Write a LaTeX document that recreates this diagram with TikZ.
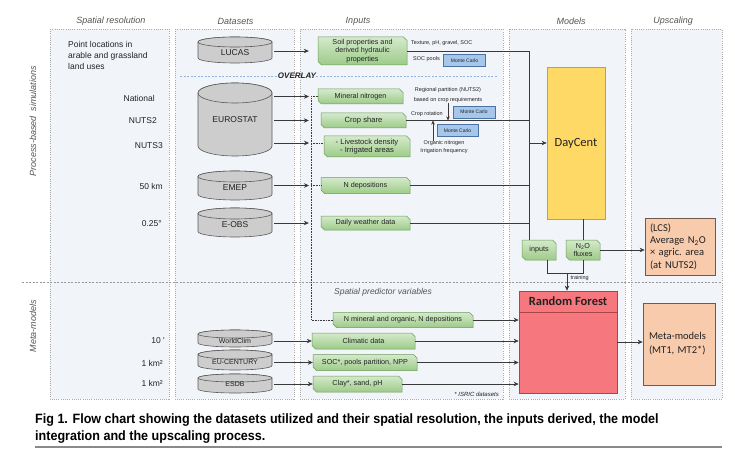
\documentclass[tikz,border=0pt]{standalone}
\usepackage{fontspec}
\setmainfont{Liberation Sans}
\newfontfamily\calfont{Carlito}
\newfontfamily\capfont[FakeStretch=0.93]{Liberation Sans}
\usetikzlibrary{arrows.meta,calc}

\definecolor{panelfill}{HTML}{F1F5FA}
\definecolor{panelline}{HTML}{ABABAB}
\definecolor{sepcol}{HTML}{999999}
\definecolor{greentop}{HTML}{D4EACB}
\definecolor{greenbot}{HTML}{9DCB88}
\definecolor{greenline}{HTML}{6B9B58}
\definecolor{cylfill}{HTML}{CDCDCD}
\definecolor{cylline}{HTML}{5A5A5A}
\definecolor{mcfill}{HTML}{A7C7EA}
\definecolor{mcline}{HTML}{4B72A3}
\definecolor{dayfill}{HTML}{FFD966}
\definecolor{dayline}{HTML}{C7A233}
\definecolor{rffill}{HTML}{F6777D}
\definecolor{rfline}{HTML}{A94545}
\definecolor{upfill}{HTML}{F8CBAD}
\definecolor{upline}{HTML}{6E5B4F}
\definecolor{headgray}{HTML}{555555}
\definecolor{overlayblue}{HTML}{8FB5E0}
\definecolor{conncol}{HTML}{3A3A3A}
\definecolor{txt}{HTML}{222222}
\definecolor{rulecol}{HTML}{8A8A8A}

\newcommand\fs[2]{\fontsize{#1}{#2}\selectfont}

\tikzset{
  panel/.style={draw=panelline, fill=panelfill, dash pattern=on 1pt off 1.2pt, line width=0.5pt},
  header/.style={font=\fs{9}{11}\itshape, text=headgray, inner sep=0pt},
  restext/.style={font=\fs{8.5}{11}, text=txt, inner sep=0pt},
  gshape/.style={draw=greenline, top color=greentop, bottom color=greenbot, line width=0.5pt},
  gtext/.style={inner sep=0pt, align=center, text=txt},
  cylshape/.style={draw=cylline, fill=cylfill, line width=0.6pt},
  cyltext/.style={inner sep=0pt, text=txt},
  mcbox/.style={draw=mcline, fill=mcfill, line width=0.5pt, font=\fs{5}{6}, inner sep=0pt, text=txt},
  note/.style={font=\fs{5.5}{8}, inner sep=0pt, text=txt},
  conn/.style={draw=conncol, line width=0.6pt},
  arr/.style={conn, -{Stealth[length=5pt,width=4.5pt]}},
  sarr/.style={conn, -{Stealth[length=4pt,width=3.5pt]}},
  dotc/.style={draw=conncol, line width=0.6pt, dash pattern=on 0.8pt off 0.8pt},
  overlayline/.style={draw=overlayblue, line width=0.6pt, dash pattern=on 2pt off 1.5pt},
  capt/.style={font=\capfont\bfseries\fs{13.5}{16}, text=black, inner sep=0pt, anchor=west},
}

\newcommand\gbox[7][7.2]{%
  \pgfmathsetmacro\gL{#3-#5/2}\pgfmathsetmacro\gR{#3+#5/2}%
  \pgfmathsetmacro\gT{#4-#6/2}\pgfmathsetmacro\gB{#4+#6/2}%
  \path[gshape] (\gL,\gT) -- ({\gR-3.5},\gT) -- (\gR,{\gT+3.5}) -- (\gR,\gB) -- ({\gL+3.5},\gB) -- (\gL,{\gB-3.5}) -- cycle;
  \node[gtext, font=\fontsize{#1}{8.7}\selectfont, minimum width=#5pt, minimum height=#6pt] (#2) at (#3,#4) {#7};
}

\newcommand\cyl[7]{%
  \pgfmathsetmacro\cL{#2-37}\pgfmathsetmacro\cR{#2+37}%
  \pgfmathsetmacro\cT{#3+#5}\pgfmathsetmacro\cB{#4-#5}%
  \path[cylshape] (\cL,\cT) -- (\cL,\cB) arc[start angle=180,end angle=0,x radius=37,y radius=#5] -- (\cR,\cT) arc[start angle=0,end angle=-180,x radius=37,y radius=#5] -- cycle;
  \path[cylshape] (#2,\cT) ellipse[x radius=37,y radius=#5];
  \node[cyltext, minimum width=74pt] (#1) at (#2,#6) {#7};
}

\begin{document}
\begin{tikzpicture}[x=1pt,y=-1pt]
\useasboundingbox (0,0) rectangle (735,449);
\fill[white] (0,0) rectangle (735,449);

% panels
\path[panel] (50,29) rectangle (169,399);
\path[panel] (175,29) rectangle (294,399);
\path[panel] (300,29) rectangle (503,399);
\path[panel] (509,29) rectangle (625,399);
\path[panel] (631,29) rectangle (722,399);
\draw[draw=sepcol, line width=0.5pt, dash pattern=on 2pt off 1.5pt] (22,282.5) -- (722,282.5);

% headers
\node[header] (hres) at (111,21) {Spatial resolution};
\node[header] (hdat) at (235.5,21) {Datasets};
\node[header] (hinp) at (358,21) {Inputs};
\node[header] (hmod) at (571,21) {Models};
\node[header] (hups) at (673,21) {Upscaling};
\node[header, rotate=90] (lproc) at (33,121) {Process-based\ \ simulations};
\node[header, rotate=90] (lmeta) at (33,326) {Meta-models};

% spatial resolution texts
\node[restext, anchor=west, align=left] (pt) at (68,55.5) {Point locations in\\arable and grassland\\land uses};
\node[restext, anchor=east] (rnat) at (155,98) {National};
\node[restext, anchor=east] (rn2) at (157,121) {NUTS2};
\node[restext, anchor=east] (rn3) at (163,146) {NUTS3};
\node[restext, anchor=east] (r50) at (163,186) {50 km};
\node[restext, anchor=east] (r025) at (162,224) {0.25°};
\node[restext, anchor=east] (r10) at (165,341) {10 \textquotesingle};
\node[restext, anchor=east] (r1a) at (163,363) {1 km²};
\node[restext, anchor=east] (r1b) at (163,383) {1 km²};

% overlay
\node[font=\fs{8}{9}\bfseries\itshape, text=txt, inner sep=0pt] (overlay) at (297,76) {OVERLAY};
\coordinate (ovl) at (180,76);
\coordinate (ovr) at (497,76);
\draw[overlayline] (ovl) -- (overlay.west);
\draw[overlayline] (overlay.east) -- (ovr);

% datasets
\cyl{lucas}{235}{37}{63}{5}{52.5}{\fs{8.5}{10}LUCAS}
\cyl{eurostat}{235}{83}{156}{10}{120}{\fs{8.5}{10}EUROSTAT}
\cyl{emep}{235}{171}{200}{5.5}{188}{\fs{8.5}{10}EMEP}
\cyl{eobs}{235}{208}{237}{5.5}{225}{\fs{8.5}{10}E-OBS}
\cyl{worldclim}{235}{330}{347}{4}{340.5}{\fs{7}{8}WorldClim}
\cyl{eucentury}{235}{350}{370}{4.5}{362}{\fs{7}{8}EU-CENTURY}
\cyl{esdb}{235}{374}{393}{4}{384}{\fs{7}{8}ESDB}

% inputs
\gbox{soil}{362.5}{51}{89}{28}{Soil properties and\\derived hydraulic\\properties}
\gbox{minN}{360.5}{96.5}{85}{15}{Mineral nitrogen}
\gbox[7.6]{crop}{363.5}{120.5}{85}{15}{Crop share}
\gbox[7.6]{live}{367}{146.5}{86}{21}{- Livestock density\\- Irrigated areas}
\gbox{ndep}{365.5}{185.5}{89}{16}{N depositions}
\gbox{dwd}{365.5}{223}{89}{14}{Daily weather data}
\gbox{nmo}{403}{320}{140}{15}{N mineral and organic, N depositions}
\gbox{clim}{363.5}{341}{103}{16}{Climatic data}
\gbox{soc}{365}{362.5}{104}{16}{SOC*, pools partition, NPP}
\gbox{clay}{357.5}{384}{89}{16}{Clay*, sand, pH}

\node[font=\fs{8.5}{10}\itshape, text=headgray, inner sep=0pt] (spv) at (383,292) {Spatial predictor variables};
\node[note, font=\fs{6}{7}\itshape, anchor=east] (isric) at (499,394) {* ISRIC datasets};

% annotations
\node[note, anchor=west] (tex) at (411,43.5) {Texture, pH, gravel, SOC};
\node[note, anchor=west] (socp) at (413,59) {SOC pools};
\node[mcbox, minimum width=42pt, minimum height=12pt] (mc1) at (464.5,60.5) {Monte Carlo};
\node[note, align=center, font=\fs{5.5}{9.5}] (reg) at (448,95.3) {Regional partition (NUTS2)\\based on crop requirements};
\node[note, anchor=east] (crot) at (443,114) {Crop rotation};
\node[mcbox, minimum width=42pt, minimum height=12pt] (mc2) at (474,112) {Monte Carlo};
\node[mcbox, minimum width=41pt, minimum height=12pt] (mc3) at (457.5,130.5) {Monte Carlo};
\node[note, align=center] (org) at (444,147) {Organic nitrogen\\Irrigation frequency};

% models
\node[draw=dayline, fill=dayfill, line width=0.7pt, minimum width=58pt, minimum height=152pt, inner sep=0pt, font=\calfont\fs{12.5}{14}, text=txt] (dc) at (576,143) {DayCent};
\gbox{inbox}{539}{250}{34}{20}{inputs}
\gbox{n2o}{583}{250}{34}{20}{N\textsubscript{2}O\\fluxes}
\node[draw=rfline, fill=rffill, line width=0.7pt, minimum width=98pt, minimum height=102pt, inner sep=0pt] (rf) at (568,342) {};
\coordinate (rfh) at (568,312);
\draw[draw=rfline, line width=0.5pt] (rf.west |- rfh) -- (rf.east |- rfh);
\node[font=\calfont\bfseries\fs{12.5}{14}, text=txt, inner sep=0pt] (rft) at (568,301.5) {Random Forest};

% upscaling
\node[draw=upline, fill=upfill, line width=0.7pt, minimum width=70pt, minimum height=57pt, inner xsep=5pt, inner ysep=0pt, text width=60pt, align=left, font=\calfont\fs{10.5}{12.3}, text=txt] (lcs) at (680,246.5) {(LCS)\\Average N\textsubscript{2}O\\× agric.\ area\\(at NUTS2)};
\node[draw=upline, fill=upfill, line width=0.7pt, minimum width=72pt, minimum height=82pt, inner xsep=6pt, inner ysep=0pt, text width=60pt, align=left, font=\calfont\fs{10.5}{14}, text=txt] (meta) at (679,344) {Meta-models\\(MT1, MT2*)};

% dataset -> inputs arrows
\coordinate (dv1) at (311,96.5);
\coordinate (dv3) at (311,143);
\coordinate (dv4) at (311,185.5);
\coordinate (dvb) at (311,320);
\draw[arr, shorten <=2pt, shorten >=9pt] (lucas.east |- soil.west) -- (soil.west);
\draw[arr, shorten <=2pt, shorten >=2pt] (eurostat.east |- dv1) -- (dv1);
\draw[arr, shorten <=2pt, shorten >=12pt] (eurostat.east |- crop.west) -- (crop.west);
\draw[arr, shorten <=2pt, shorten >=2pt] (eurostat.east |- dv3) -- (dv3);
\draw[arr, shorten <=2pt, shorten >=2pt] (emep.east |- dv4) -- (dv4);
\draw[arr, shorten <=2pt, shorten >=12pt] (eobs.east |- dwd.west) -- (dwd.west);
\draw[arr, shorten <=2pt] (worldclim.east |- clim.west) -- (clim.west);
\draw[arr, shorten <=2pt] (eucentury.east |- soc.west) -- (soc.west);
\draw[arr, shorten <=2pt] (esdb.east |- clay.west) -- (clay.west);
\draw[dotc] (dv1) -- (minN.west);
\draw[dotc] (dv3) -- (dv3 -| live.west);
\draw[dotc] (dv4) -- (ndep.west);
\draw[dotc] (dv1) -- (dvb) -- (nmo.west);

% inputs -> DayCent collector
\coordinate (cv1) at (529,51);
\coordinate (dcin) at (529,143);
\draw[conn] (soil.east) -- (cv1) -- (cv1 |- inbox.north);
\draw[conn] (crop.east) -- (crop.east -| cv1);
\draw[conn] (ndep.east) -- (ndep.east -| cv1);
\draw[conn] (dwd.east) -- (dwd.east -| cv1);
\draw[arr] (dcin) -- (dcin -| dc.west);

% annotation arrows
\draw[sarr] (reg.south) -- (reg.south |- crop.east);
\coordinate (ua) at (433,141);
\draw[sarr] (ua) -- (ua |- crop.east);

% DayCent -> outputs
\draw[conn] (dc.south -| n2o.north) -- (n2o.north);
\coordinate (jb) at (547,273.3);
\coordinate (tr) at (567,273.3);
\draw[conn] (inbox.south -| jb) -- (jb) -- (jb -| n2o.south) -- (n2o.south);
\draw[arr] (tr) -- (tr |- rf.north);
\node[note, anchor=west] (trn) at (570.5,278) {training};
\draw[arr] (n2o.east) -- (n2o.east -| lcs.west);

% inputs -> Random Forest
\draw[arr] (nmo.east) -- (nmo.east -| rf.west);
\draw[arr] (clim.east) -- (clim.east -| rf.west);
\draw[arr] (soc.east) -- (soc.east -| rf.west);
\draw[arr] (clay.east) -- (clay.east -| rf.west);
\draw[arr] (rf.east |- 0,342) -- (meta.west |- 0,342);

% caption
\node[capt] (cap1) at (35,420) {Fig 1. Flow chart showing the datasets utilized and their spatial resolution, the inputs derived, the model};
\node[capt] (cap2) at (35,437) {integration and the upscaling process.};
\coordinate (rl) at (35,447);
\coordinate (rr) at (722,447);
\draw[draw=rulecol, line width=1.2pt] (rl) -- (rr);
\end{tikzpicture}
\end{document}
